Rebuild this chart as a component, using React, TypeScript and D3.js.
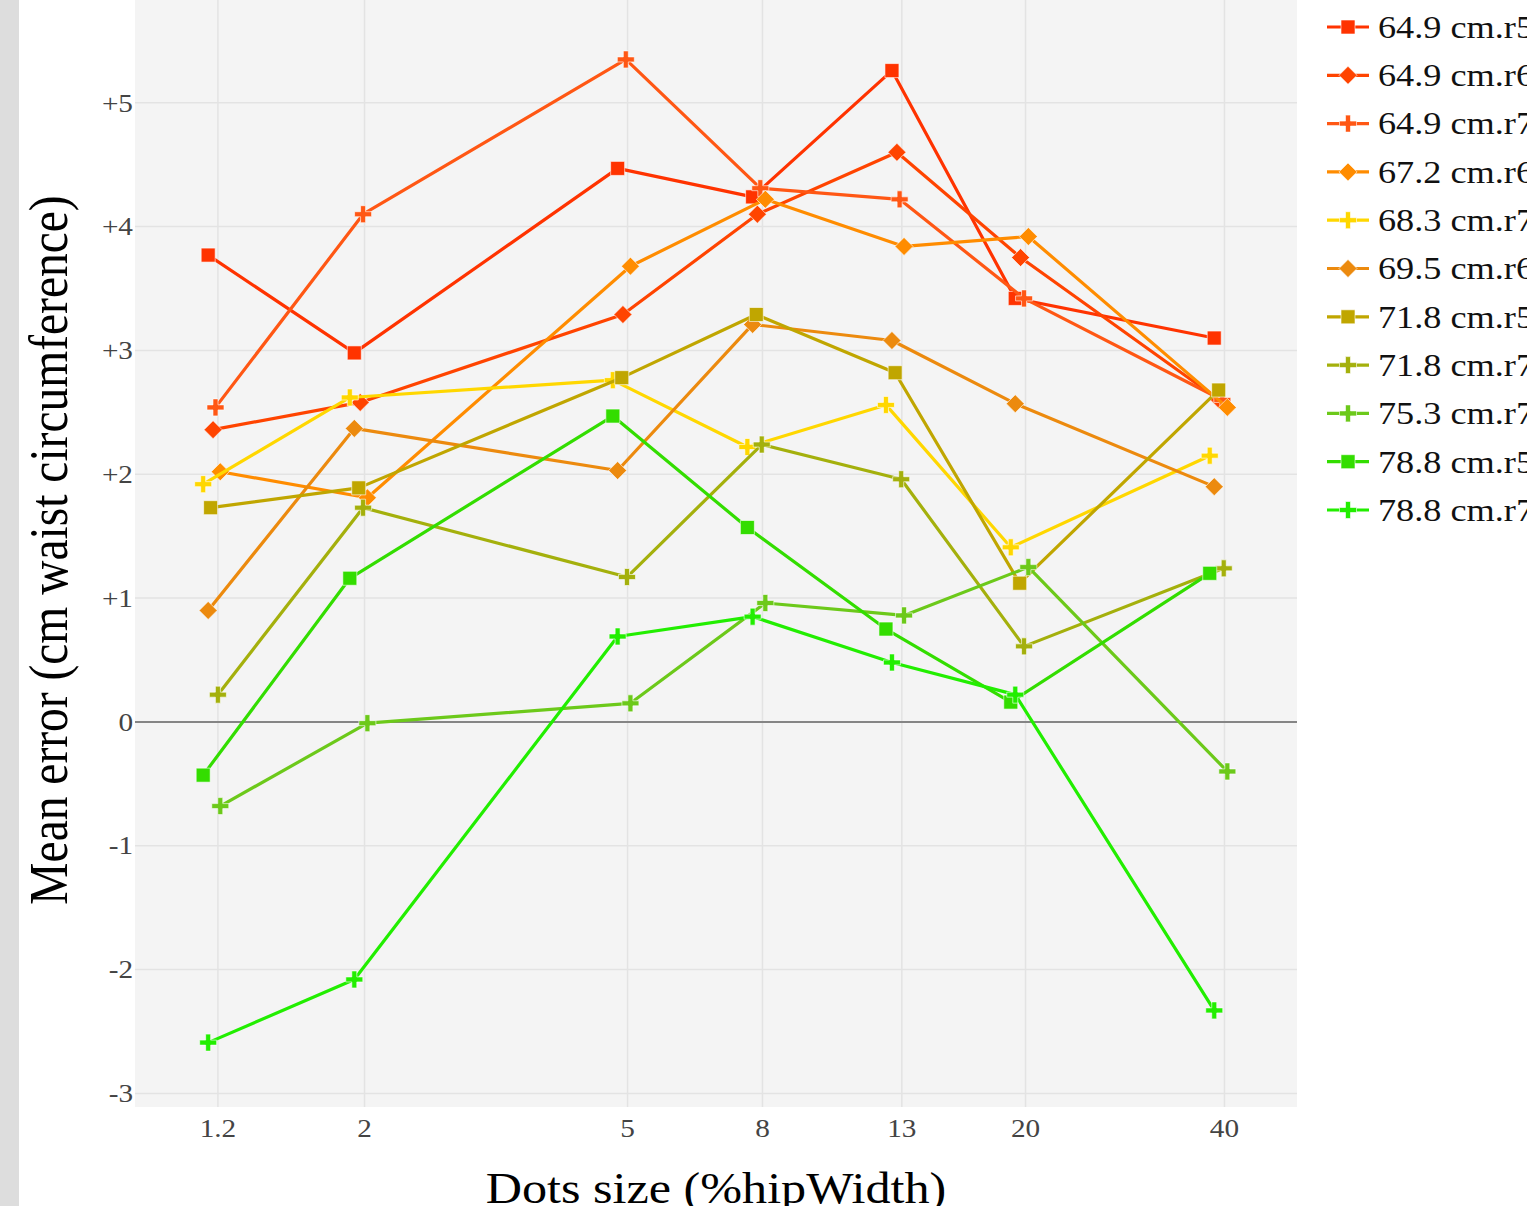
import React, { useEffect, useRef } from 'react';
import * as d3 from 'd3';

// dot sizes (%hipWidth) on the log x axis
const sizeTicks = [1.2, 2, 5, 8, 13, 20, 40];
const yTicks = [-3, -2, -1, 0, 1, 2, 3, 4, 5];

const seriesNames = [
  '64.9 cm.r5', '64.9 cm.r6', '64.9 cm.r7', '67.2 cm.r6', '68.3 cm.r7', '69.5 cm.r6',
  '71.8 cm.r5', '71.8 cm.r7', '75.3 cm.r7', '78.8 cm.r5', '78.8 cm.r7',
];
const seriesSymbols = [
  'square', 'diamond', 'cross', 'diamond', 'cross', 'diamond',
  'square', 'cross', 'cross', 'square', 'cross',
];
const seriesColors = [
  '#ff3300', '#ff4400', '#ff5714', '#ff8c00', '#ffd700', '#ec8a0e',
  '#c0a600', '#a4b00c', '#6cc91a', '#33dd00', '#22ee00',
];

// x values as plotted (each run is slightly shifted around the nominal size)
const xs_649r5 = [1.16, 1.93, 4.83, 7.73, 12.56, 19.3, 38.6];
const xs_649r6 = [1.18, 1.97, 4.92, 7.86, 12.78, 19.66, 39.3];
const xs_649r7 = [1.19, 1.99, 4.97, 7.94, 12.9, 19.9, 39.7];
const xs_672r6 = [1.21, 2.02, 5.05, 8.08, 13.1, 20.2, 40.4];
const xs_683r7 = [1.14, 1.9, 4.75, 7.59, 12.3, 19.0, 38.0];
const xs_695r6 = [1.16, 1.93, 4.83, 7.73, 12.56, 19.3, 38.6];
const xs_718r5 = [1.17, 1.96, 4.9, 7.83, 12.7, 19.6, 39.2];
const xs_718r7 = [1.2, 1.99, 4.99, 7.98, 12.97, 19.9, 39.9];
const xs_753r7 = [1.21, 2.02, 5.05, 8.08, 13.1, 20.2, 40.4];
const xs_788r5 = [1.14, 1.9, 4.75, 7.59, 12.3, 19.0, 38.0];
const xs_788r7 = [1.16, 1.93, 4.83, 7.73, 12.56, 19.3, 38.6];

// mean error (cm waist circumference)
const ys_649r5 = [3.77, 2.98, 4.47, 4.24, 5.26, 3.42, 3.1];
const ys_649r6 = [2.36, 2.58, 3.29, 4.1, 4.6, 3.75, 2.6];
const ys_649r7 = [2.54, 4.1, 5.35, 4.31, 4.22, 3.42, 2.6];
const ys_672r6 = [2.02, 1.81, 3.68, 4.22, 3.84, 3.92, 2.54];
const ys_683r7 = [1.92, 2.62, 2.76, 2.22, 2.56, 1.41, 2.15];
const ys_695r6 = [0.9, 2.37, 2.03, 3.21, 3.08, 2.57, 1.9];
const ys_718r5 = [1.73, 1.89, 2.78, 3.29, 2.82, 1.12, 2.68];
const ys_718r7 = [0.22, 1.73, 1.17, 2.24, 1.96, 0.61, 1.24];
const ys_753r7 = [-0.68, -0.01, 0.15, 0.96, 0.86, 1.25, -0.4];
const ys_788r5 = [-0.43, 1.16, 2.47, 1.57, 0.75, 0.16, 1.2];
const ys_788r7 = [-2.59, -2.08, 0.69, 0.85, 0.48, 0.22, -2.33];

const allXs = [xs_649r5, xs_649r6, xs_649r7, xs_672r6, xs_683r7, xs_695r6, xs_718r5, xs_718r7, xs_753r7, xs_788r5, xs_788r7];
const allYs = [ys_649r5, ys_649r6, ys_649r7, ys_672r6, ys_683r7, ys_695r6, ys_718r5, ys_718r7, ys_753r7, ys_788r5, ys_788r7];

const W = 1527;
const H = 1206;
const FONT = '"Liberation Serif", "Times New Roman", serif';
// the screenshot is a bit wider than tall, text looks stretched sideways
const SX = 1.17;

function symbolPath(sym: string) {
  if (sym === 'square') return 'M-7,-7H7V7H-7Z';
  if (sym === 'diamond') return 'M0,-9L9,0L0,9L-9,0Z';
  // thick plus
  return 'M-2.5,-8.5H2.5V-2.5H8.5V2.5H2.5V8.5H-2.5V2.5H-8.5V-2.5H-2.5Z';
}

export default function App() {
  const ref = useRef<HTMLDivElement>(null);

  useEffect(() => {
    const el = ref.current;
    if (!el) return;
    el.innerHTML = '';

    const plot = { left: 135, right: 1297, top: 0, bottom: 1107 };

    const svg = d3.select(el).append('svg')
      .attr('width', W)
      .attr('height', H)
      .style('display', 'block')
      .style('position', 'absolute')
      .style('left', '0px')
      .style('top', '0px');

    svg.append('rect').attr('width', W).attr('height', H).attr('fill', '#fff');
    svg.append('rect').attr('width', 19).attr('height', H).attr('fill', '#dddddd');

    const x = d3.scaleLog().domain([0.899, 51.5]).range([plot.left, plot.right]);
    const y = d3.scaleLinear().domain([-3.11, 5.83]).range([plot.bottom, plot.top]);

    svg.append('rect')
      .attr('x', plot.left).attr('y', plot.top)
      .attr('width', plot.right - plot.left).attr('height', plot.bottom - plot.top)
      .attr('fill', '#f4f4f4');

    // grid
    svg.append('g').selectAll('line').data(sizeTicks).enter().append('line')
      .attr('x1', d => x(d)).attr('x2', d => x(d))
      .attr('y1', plot.top).attr('y2', plot.bottom)
      .attr('stroke', '#e3e3e3').attr('stroke-width', 1.5);
    svg.append('g').selectAll('line').data(yTicks.filter(d => d !== 0)).enter().append('line')
      .attr('x1', plot.left).attr('x2', plot.right)
      .attr('y1', d => y(d)).attr('y2', d => y(d))
      .attr('stroke', '#e3e3e3').attr('stroke-width', 1.5);
    svg.append('line')
      .attr('x1', plot.left).attr('x2', plot.right)
      .attr('y1', y(0)).attr('y2', y(0))
      .attr('stroke', '#858585').attr('stroke-width', 2);

    // tick labels
    svg.append('g').selectAll('text').data(yTicks).enter().append('text')
      .attr('transform', d => `translate(133,${y(d)}) scale(${SX},1)`)
      .attr('dy', '0.35em')
      .attr('text-anchor', 'end')
      .style('font-family', FONT).style('font-size', '25px').attr('fill', '#444')
      .text(d => (d > 0 ? '+' + d : String(d)));
    svg.append('g').selectAll('text').data(sizeTicks).enter().append('text')
      .attr('transform', d => `translate(${x(d)},1128) scale(${SX},1)`)
      .attr('dy', '0.35em')
      .attr('text-anchor', 'middle')
      .style('font-family', FONT).style('font-size', '25px').attr('fill', '#444')
      .text(d => String(d));

    // axis titles
    svg.append('text')
      .attr('transform', `translate(67,550) scale(${SX},1) rotate(-90)`)
      .attr('text-anchor', 'middle')
      .style('font-family', FONT).style('font-size', '47.5px').attr('fill', '#000')
      .text('Mean error (cm waist circumference)');
    svg.append('text')
      .attr('transform', `translate(716,1203) scale(1.14,1)`)
      .attr('text-anchor', 'middle')
      .style('font-family', FONT).style('font-size', '44px').attr('fill', '#000')
      .text('Dots size (%hipWidth)');

    const line = d3.line<[number, number]>().x(d => x(d[0])).y(d => y(d[1]));

    const traces = svg.append('g');
    seriesNames.forEach((name, i) => {
      const pts: [number, number][] = allXs[i].map((v, j) => [v, allYs[i][j]]);
      const g = traces.append('g');
      g.append('path')
        .attr('d', line(pts))
        .attr('fill', 'none')
        .attr('stroke', seriesColors[i])
        .attr('stroke-width', 3.2)
        .attr('stroke-linejoin', 'round');
      g.selectAll('path.pt').data(pts).enter().append('path')
        .attr('class', 'pt')
        .attr('d', symbolPath(seriesSymbols[i]))
        .attr('transform', d => `translate(${x(d[0])},${y(d[1])})`)
        .attr('fill', seriesColors[i])
        .attr('stroke', '#fff').attr('stroke-opacity', 0.6).attr('stroke-width', 1);
    });

    // legend
    const legend = svg.append('g');
    seriesNames.forEach((name, i) => {
      const cy = 27 + i * 48.3;
      const row = legend.append('g').attr('transform', `translate(0,${cy})`);
      row.append('line')
        .attr('x1', 1327).attr('x2', 1369).attr('y1', 0).attr('y2', 0)
        .attr('stroke', seriesColors[i]).attr('stroke-width', 3.2);
      row.append('path')
        .attr('d', symbolPath(seriesSymbols[i]))
        .attr('transform', 'translate(1348,0)')
        .attr('fill', seriesColors[i])
        .attr('stroke', '#fff').attr('stroke-opacity', 0.6).attr('stroke-width', 1);
      row.append('text')
        .attr('transform', `translate(1378,0) scale(${SX},1)`)
        .attr('dy', '0.35em')
        .style('font-family', FONT).style('font-size', '31px').attr('fill', '#111')
        .text(name);
    });
  }, []);

  return <div ref={ref}></div>;
}
